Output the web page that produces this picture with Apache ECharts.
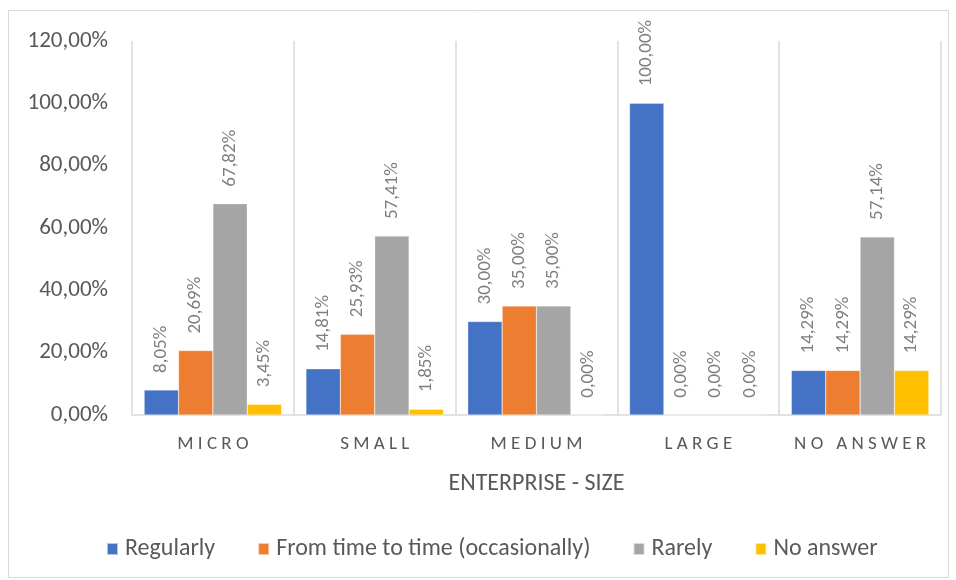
<!DOCTYPE html>
<html>
<head>
<meta charset="utf-8">
<script src="https://cdn.jsdelivr.net/npm/echarts@6/dist/echarts.min.js"></script>
<style>
  html, body { margin: 0; padding: 0; background: #fff; }
  #chart { width: 956px; height: 580px; }
</style>
</head>
<body>
<div id="chart"></div>
<script>
// Enterprise size categories and answer frequencies (in %)
const categories = ['MICRO', 'SMALL', 'MEDIUM', 'LARGE', 'NO ANSWER'];
const seriesNames = ['Regularly', 'From time to time (occasionally)', 'Rarely', 'No answer'];
const regularly = [8.05, 14.81, 30.00, 100.00, 14.29];
const fromTimeToTime = [20.69, 25.93, 35.00, 0.00, 14.29];
const rarely = [67.82, 57.41, 35.00, 0.00, 57.14];
const noAnswer = [3.45, 1.85, 0.00, 0.00, 14.29];
const colors = ['#4472C4', '#ED7D31', '#A5A5A5', '#FFC000'];

const FONT = 'Carlito, Lato, "Open Sans", sans-serif';
const pct = v => Number(v).toFixed(2).replace('.', ',') + '%';
// letter-spaced category captions
const spaced = s => s.split('').join(' ');

const seriesData = [regularly, fromTimeToTime, rarely, noAnswer];

const chart = echarts.init(document.getElementById('chart'), null, { renderer: 'canvas' });
chart.setOption({
  animation: false,
  color: colors,
  textStyle: { fontFamily: FONT },
  graphic: [{
    type: 'rect',
    shape: { x: 8.5, y: 10.5, width: 940, height: 567 },
    style: { fill: 'none', stroke: '#d9d9d9', lineWidth: 1 },
    silent: true
  }],
  grid: { left: 132, right: 15, top: 41, bottom: 165 },
  legend: {
    bottom: 14,
    left: 101,
    itemWidth: 11,
    itemHeight: 12,
    itemGap: 42,
    icon: 'rect',
    textStyle: { color: '#595959', fontSize: 24, fontFamily: FONT, padding: [0, 0, 0, 2] },
    data: seriesNames
  },
  xAxis: {
    type: 'category',
    data: categories,
    name: 'ENTERPRISE - SIZE',
    nameLocation: 'middle',
    nameGap: 57,
    nameTextStyle: { color: '#595959', fontSize: 24, fontFamily: FONT },
    axisLine: { lineStyle: { color: '#d9d9d9', width: 1.5 } },
    axisTick: { show: false },
    axisLabel: {
      interval: 0,
      color: '#595959', fontSize: 19, margin: 20, fontFamily: FONT,
      formatter: v => spaced(v)
    },
    splitLine: { show: true, interval: 0, lineStyle: { color: '#d9d9d9', width: 1.5 } }
  },
  yAxis: {
    type: 'value',
    min: 0,
    max: 120,
    interval: 20,
    axisLine: { show: false },
    axisTick: { show: false },
    splitLine: { show: false },
    axisLabel: {
      color: '#595959', fontSize: 23, margin: 24, fontFamily: FONT,
      formatter: v => pct(v)
    }
  },
  series: seriesNames.map((name, i) => ({
    name,
    type: 'bar',
    data: seriesData[i],
    barGap: '0%',
    barCategoryGap: '15%',
    itemStyle: { color: colors[i], borderColor: 'rgba(255,255,255,0.6)', borderWidth: 0.5 },
    label: {
      show: true,
      position: 'top',
      rotate: 90,
      align: 'left',
      verticalAlign: 'middle',
      distance: 17,
      color: '#7f7f7f',
      fontSize: 19,
      fontFamily: FONT,
      formatter: p => pct(p.value)
    }
  }))
});
</script>
</body>
</html>
